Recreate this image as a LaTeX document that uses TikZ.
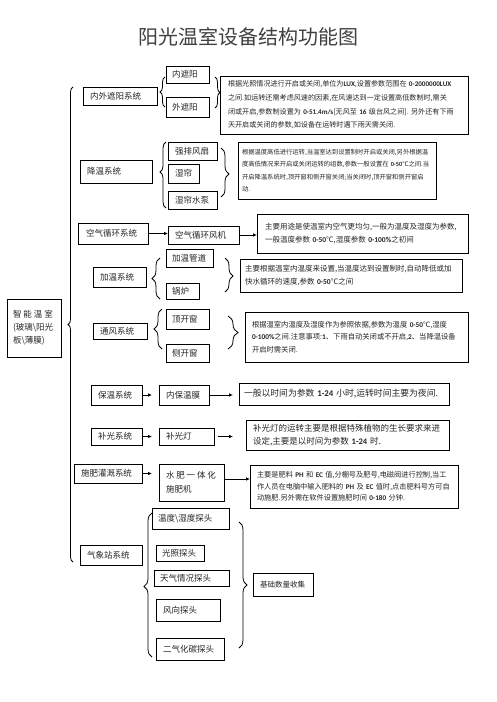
\documentclass[tikz,border=0pt]{standalone}
\usepackage{fontspec}
\setmainfont{Noto Sans CJK SC}
\newfontfamily\latfont{Carlito}
\usetikzlibrary{arrows.meta,decorations.pathreplacing,shadows}
\newcommand\numb[1]{\mbox{\latfont\bfseries #1}}
\newcommand\mkbox[8][]{\pgfmathsetmacro\tw{#5-2*#7}\node[lbox,text width=\tw pt,inner xsep=#7pt,minimum height=#6pt,anchor=north west,#1] (#2) at (#3,#4) {#8};}
\tikzset{
  lbox/.style={draw=black,line width=0.8pt,inner ysep=0pt,outer sep=0pt,align=left,
    font=\fontsize{8.5}{11}\selectfont,text=black!85},
  tbox/.style={fill=white,drop shadow={shadow xshift=0.9pt,shadow yshift=-0.9pt,fill=black!75,opacity=1}},
  brc/.style={draw=black,line width=0.8pt,decorate},
  arr/.style={draw=black,line width=0.8pt,-{Latex[length=4pt,width=3.6pt]}}
}
\begin{document}
\begin{tikzpicture}[x=1pt,y=-1pt]
\fill[white] (0,0) rectangle (496,702);
\useasboundingbox (0,0) rectangle (496,702);

\node[font=\fontsize{20}{24}\selectfont,text=black!75] (title) at (248,37) {阳光温室设备结构功能图};

% root
\mkbox[font=\fontsize{8.5}{13}\selectfont]{root}{7}{299}{54}{58}{6}{\makebox[40pt][s]{智\hfill 能\hfill 温\hfill 室}\\(玻璃\textbackslash 阳光\\板\textbackslash 薄膜)}
\draw[brc,decoration={brace,amplitude=5pt,aspect=0.5}] (73,562) -- (73,87);

% row 1
\mkbox{s1}{83}{87}{74}{18}{7}{内外遮阳系统}
\mkbox{s1a}{166}{66}{43}{17}{6}{内遮阳}
\mkbox{s1b}{166}{97}{43}{20}{6}{外遮阳}
\mkbox[tbox,font=\fontsize{7.1}{13.7}\selectfont]{t1}{220}{76}{248}{58}{8}{根据光照情况进行开启或关闭,单位为\numb{LUX},设置参数范围在~\numb{0-2000000LUX}\\之间.如运转还需考虑风速的因素,在风速达到一定设置高低数制时,需关\\闭或开启,参数制设置为~\numb{0-51.4m/s}[无风至~\numb{16}~级台风之间].~另外还有下雨\\天开启或关闭的参数,如设备在运转时遇下雨天需关闭.}
\draw[brc,decoration={brace,amplitude=5pt,aspect=0.5}] (165,107) -- (165,77);
\draw[brc,decoration={brace,amplitude=5pt,aspect=0.5}] (215,77) -- (215,108);

% row 2
\mkbox{s2}{80}{160}{72}{23}{7}{降温系统}
\mkbox{s2a}{168}{142}{49}{18}{7}{强排风扇}
\mkbox{s2b}{168}{164}{31}{19}{7}{湿帘}
\mkbox{s2c}{168}{191}{49}{18}{7}{湿帘水泵}
\mkbox[tbox,font=\fontsize{6.3}{12.6}\selectfont]{t2}{238}{142}{198}{57}{4}{根据温度高低进行运转,当温室达到设置制时开启或关闭,另外根据温\\度高低情况来开启或关闭运转的组数,参数一般设置在~\numb{0-50}℃之间.当\\开启降温系统时,顶开窗和侧开窗关闭;当关闭时,顶开窗和侧开窗启\\动.}
\draw[brc,decoration={brace,amplitude=6pt,aspect=0.545}] (166,208) -- (166,142);
\draw[brc,decoration={brace,amplitude=8pt,aspect=0.53}] (221,148) -- (221,197);

% row 3
\mkbox{s3}{78}{223}{70}{21}{8}{空气循环系统}
\mkbox{s3a}{168}{226}{71}{18}{7}{空气循环风机}
\mkbox[tbox,font=\fontsize{7.5}{12.5}\selectfont]{t3}{257}{214}{211}{39}{8}{主要用途是使温室内空气更均匀,一般为温度及湿度为参数,\\一般温度参数~\numb{0-50}℃,湿度参数~\numb{0-100\%}之初间}
\draw[arr] (s3.east) -- (s3.east -| s3a.west);
\draw[arr] (s3a.east) -- (s3a.east -| t3.west);

% row 4
\mkbox{s4}{93}{267}{53}{20}{7}{加温系统}
\mkbox{s4a}{166}{249}{47}{18}{6}{加温管道}
\mkbox{s4b}{166}{283}{33}{16}{6}{锅炉}
\mkbox[tbox,font=\fontsize{7.5}{13}\selectfont]{t4}{240}{259}{222}{33}{5}{主要根据温室内温度来设置,当温度达到设置制时,自动降低或加\\快水循环的速度,参数~\numb{0-50}℃之间}
\draw[brc,decoration={brace,amplitude=8pt,aspect=0.5}] (160,299) -- (160,258);
\draw[brc,decoration={brace,amplitude=8pt,aspect=0.53}] (225,258) -- (225,292);

% row 5
\mkbox{s5}{93}{323}{54}{16}{7}{通风系统}
\mkbox{s5a}{166}{309}{43}{20}{6}{顶开窗}
\mkbox{s5b}{166}{344}{43}{18}{6}{侧开窗}
\mkbox[tbox,font=\fontsize{7.3}{12.5}\selectfont]{t5}{245}{312}{223}{50}{7}{根据温室内温度及湿度作为参照依据,参数为温度~\numb{0-50}℃,湿度\\\numb{0-100\%}之间.注意事项:\numb{1}、下雨自动关闭或不开启,\numb{2}、当降温设备\\开启时需关闭.}
\draw[brc,decoration={brace,amplitude=8pt,aspect=0.5}] (162,349) -- (162,309);
\draw[brc,decoration={brace,amplitude=10pt,aspect=0.5}] (228,316) -- (228,349);

% row 6
\mkbox{s6}{91}{385}{51}{20}{7}{保温系统}
\mkbox{s6a}{159}{385}{50}{20}{7}{内保温膜}
\mkbox[tbox,font=\fontsize{8.8}{12}\selectfont]{t6}{239}{383}{210}{22}{5}{一般以时间为参数~\numb{1-24}~小时,运转时间主要为夜间.}
\draw[arr,shorten >=7pt] (s6.east) -- (s6.east -| s6a.west);
\draw[arr,shorten >=6pt] (s6a.east) -- (s6a.east -| t6.west);

% row 7
\mkbox{s7}{91}{428}{51}{17}{7}{补光系统}
\mkbox{s7a}{159}{428}{55}{17}{7}{补光灯}
\mkbox[tbox,font=\fontsize{8.5}{13}\selectfont]{t7}{246}{420}{203}{30}{7}{补光灯的运转主要是根据特殊植物的生长要求来进\\设定,主要是以时间为参数~\numb{1-24}~时.}
\draw[arr,shorten >=7pt] (s7.east) -- (s7.east -| s7a.west);
\draw[arr,shorten <=4pt,shorten >=13pt] (s7a.east) -- (s7a.east -| t7.west);

% row 8
\mkbox{s8}{74}{464}{68}{19}{7}{施肥灌溉系统}
\mkbox[font=\fontsize{8.5}{14}\selectfont]{s8a}{159}{464}{65}{37}{7}{\makebox[50pt][s]{水\hfill 肥\hfill 一\hfill 体\hfill 化}\\施肥机}
\mkbox[tbox,font=\fontsize{7.2}{11.7}\selectfont]{t8}{250}{465}{208}{43}{7}{主要是肥料~\numb{PH}~和~\numb{EC}~值,分棚号及肥号,电磁阀进行控制,当工\\作人员在电脑中输入肥料的~\numb{PH}~及~\numb{EC}~值时,点击肥料号方可自\\动施肥.另外需在软件设置施肥时间~\numb{0-180}~分钟.}
\draw[arr,shorten >=7pt] (s8.east) -- (s8.east -| s8a.west);
\draw[arr] ([yshift=3.5pt]s8a.east) -- ([yshift=3.5pt]s8a.east -| t8.west);

% row 9
\mkbox{s9}{80}{545}{62}{20}{7}{气象站系统}
\mkbox{s9a}{152}{508}{77}{21}{6}{温度\textbackslash 湿度探头}
\mkbox{s9b}{156}{545}{48}{16}{6}{光照探头}
\mkbox{s9c}{154}{570}{75}{16}{6}{天气情况探头}
\mkbox{s9d}{156}{599}{64}{22}{7}{风向探头}
\mkbox{s9e}{156}{638}{68}{22}{7}{二气化碳探头}
\mkbox[font=\fontsize{7.5}{10}\selectfont]{s9f}{253}{573}{60}{23}{7}{基础数量收集}
\draw[brc,decoration={brace,amplitude=8pt,aspect=0.49}] (152,657) -- (152,513);
\draw[brc,decoration={brace,amplitude=8pt,aspect=0.5}] (239,522) -- (239,648);
\end{tikzpicture}
\end{document}
